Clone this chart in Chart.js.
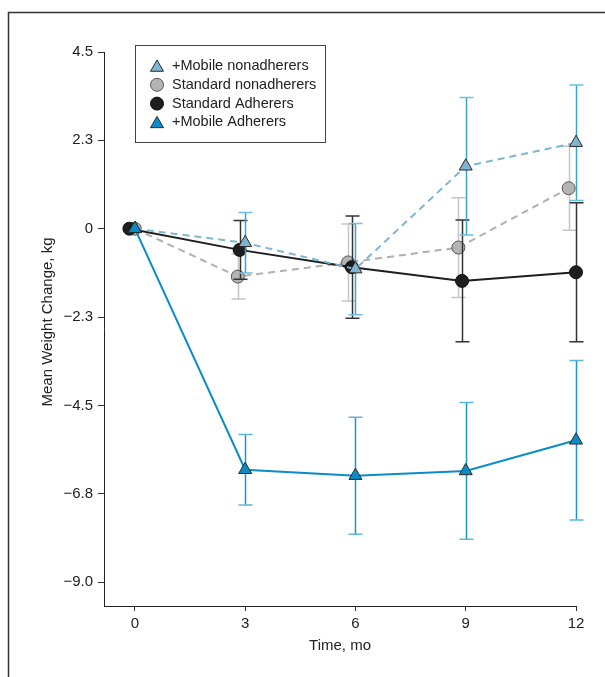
<!DOCTYPE html>
<html>
<head>
<meta charset="utf-8">
<script src="https://cdn.jsdelivr.net/npm/chart.js@4.4.0/dist/chart.umd.min.js"></script>
<style>
    html, body { margin: 0; padding: 0; background: #fff; }
    #wrap { width: 605px; height: 677px; }
</style>
</head>
<body>
<div id="wrap"><canvas id="weight-chart" width="605" height="677"></canvas></div>
<script>
var FONT = "'Liberation Sans Narrow', 'Arial Narrow', 'Liberation Sans', sans-serif";

// series values (mean +/- error, kg)
var mobileAdhX = [0, 3, 6, 9, 12];
var mobileAdhY = [0, -6.14, -6.29, -6.17, -5.39];
var mobileAdhErr = [0, 0.90, 1.49, 1.74, 2.03];

var mobileNonX = [0, 3, 6, 9, 12];
var mobileNonY = [0, -0.36, -1.03, 1.59, 2.19];
var mobileNonErr = [0, 0.77, 1.16, 1.75, 1.47];

var standardAdhX = [-0.15, 2.85, 5.9, 8.9, 12];
var standardAdhY = [0, -0.54, -0.98, -1.33, -1.11];
var standardAdhErr = [0, 0.75, 1.30, 1.55, 1.77];

var standardNonX = [0, 2.8, 5.8, 8.8, 11.8];
var standardNonY = [0, -1.22, -0.86, -0.48, 1.03];
var standardNonErr = [0, 0.57, 0.98, 1.27, 1.07];

var xTickValues = [0, 3, 6, 9, 12];
var yTickValues = [-9, -6.75, -4.5, -2.25, 0, 2.25, 4.5];
var yTickLabels = ["\u22129.0", "\u22126.8", "\u22124.5", "\u22122.3", "0", "2.3", "4.5"];

function toPoints(xs, ys) {
    return xs.map(function (x, i) { return { x: x, y: ys[i] }; });
}

// dataset 0 is drawn on top
var datasets = [
    {
        label: "+Mobile Adherers",
        data: toPoints(mobileAdhX, mobileAdhY),
        errors: mobileAdhErr,
        barColor: "#1a95cf",
        capColor: "#5ab6df",
        borderColor: "#0a8cc6",
        borderWidth: 2,
        pointStyle: "triangle",
        pointRadius: 7.5,
        pointBackgroundColor: "#0a8cc6",
        pointBorderColor: "#2a2a2a",
        pointBorderWidth: 1,
    },
    {
        label: "+Mobile nonadherers",
        data: toPoints(mobileNonX, mobileNonY),
        errors: mobileNonErr,
        barColor: "#3aa3d6",
        capColor: "#6cc0e4",
        borderColor: "#7db6d5",
        borderDash: [7, 5],
        borderWidth: 2,
        pointStyle: "triangle",
        pointRadius: 7.5,
        pointBackgroundColor: "#7fb5d2",
        pointBorderColor: "#2a2a2a",
        pointBorderWidth: 1,
    },
    {
        label: "Standard Adherers",
        data: toPoints(standardAdhX, standardAdhY),
        errors: standardAdhErr,
        barColor: "#333333",
        capColor: "#333333",
        borderColor: "#1e1e1e",
        borderWidth: 2,
        pointStyle: "circle",
        pointRadius: 6.5,
        pointBackgroundColor: "#1e1e1e",
        pointBorderColor: "#111111",
        pointBorderWidth: 1,
    },
    {
        label: "Standard nonadherers",
        data: toPoints(standardNonX, standardNonY),
        errors: standardNonErr,
        barColor: "#c6c6c6",
        capColor: "#c6c6c6",
        borderColor: "#b0b0b0",
        borderDash: [7, 5],
        borderWidth: 2,
        pointStyle: "circle",
        pointRadius: 6.5,
        pointBackgroundColor: "#b4b4b4",
        pointBorderColor: "#555555",
        pointBorderWidth: 1,
    },
];
datasets.forEach(function (d) { d.clip = false; d.tension = 0; d.fill = false; });

// order shown in the legend box
var legendOrder = [1, 3, 2, 0];

var errorBars = {
    id: "errorBars",
    beforeDatasetDraw: function (chart, args) {
        var ds = chart.data.datasets[args.index];
        if (!ds.errors) return;
        var xs = chart.scales.x, ys = chart.scales.y, ctx = chart.ctx;
        ctx.save();
        ctx.lineWidth = 1.5;
        ds.data.forEach(function (p, i) {
            var e = ds.errors[i];
            if (!e) return;
            var px = Math.round(xs.getPixelForValue(p.x)) + 0.5;
            var top = ys.getPixelForValue(p.y + e);
            var bot = ys.getPixelForValue(p.y - e);
            ctx.strokeStyle = ds.barColor;
            ctx.beginPath();
            ctx.moveTo(px, top);
            ctx.lineTo(px, bot);
            ctx.stroke();
            ctx.strokeStyle = ds.capColor;
            ctx.beginPath();
            ctx.moveTo(px - 7, top); ctx.lineTo(px + 7, top);
            ctx.moveTo(px - 7, bot); ctx.lineTo(px + 7, bot);
            ctx.stroke();
        });
        ctx.restore();
    },
};

function drawMarker(ctx, ds, x, y) {
    var r = ds.pointRadius;
    ctx.beginPath();
    if (ds.pointStyle === "triangle") {
        ctx.moveTo(x, y - r);
        ctx.lineTo(x + r * 0.866, y + r * 0.5);
        ctx.lineTo(x - r * 0.866, y + r * 0.5);
        ctx.closePath();
    } else {
        ctx.arc(x, y, r, 0, Math.PI * 2);
    }
    ctx.fillStyle = ds.pointBackgroundColor;
    ctx.fill();
    ctx.lineWidth = 1;
    ctx.strokeStyle = ds.pointBorderColor;
    ctx.stroke();
}

var decorations = {
    id: "decorations",
    afterDraw: function (chart) {
        var ctx = chart.ctx;
        ctx.save();
        // outer frame (left and top edges)
        ctx.strokeStyle = "#333";
        ctx.lineWidth = 1.5;
        ctx.beginPath();
        ctx.moveTo(8.5, 677);
        ctx.lineTo(8.5, 12.5);
        ctx.lineTo(605, 12.5);
        ctx.stroke();

        // y axis title
        ctx.save();
        ctx.fillStyle = "#222";
        ctx.font = "15px " + FONT;
        ctx.translate(48, 322);
        ctx.rotate(-Math.PI / 2);
        ctx.textAlign = "center";
        ctx.textBaseline = "middle";
        ctx.fillText("Mean Weight Change, kg", 0, 0);
        ctx.restore();

        // legend box
        ctx.strokeStyle = "#444";
        ctx.lineWidth = 1;
        ctx.strokeRect(135.5, 45.5, 190, 97);
        ctx.font = "14.5px " + FONT;
        ctx.textAlign = "left";
        ctx.textBaseline = "middle";
        legendOrder.forEach(function (idx, row) {
            var ds = chart.data.datasets[idx];
            var ly = 66 + row * 18.8;
            drawMarker(ctx, ds, 157, ds.pointStyle === "triangle" ? ly + 1.5 : ly);
            ctx.fillStyle = "#222";
            ctx.fillText(ds.label, 172, ly);
        });
        ctx.restore();
    },
};

var ctx = document.getElementById("weight-chart").getContext("2d");

var config = {
    type: "line",
    data: { datasets: datasets },
    options: {
        responsive: false,
        animation: false,
        layout: { padding: { top: 52, right: 29, left: 0, bottom: 0 } },
        plugins: {
            legend: { display: false },
            tooltip: { enabled: false },
        },
        scales: {
            x: {
                type: "linear",
                min: -0.84,
                max: 12,
                afterBuildTicks: function (axis) {
                    axis.ticks = xTickValues.map(function (v) { return { value: v }; });
                },
                afterFit: function (axis) { axis.height = 71; },
                grid: { drawOnChartArea: false, drawTicks: true, tickLength: 5, color: "#333" },
                border: { color: "#222", width: 1 },
                ticks: {
                    autoSkip: false,
                    maxRotation: 0,
                    padding: 4,
                    color: "#222",
                    font: { family: FONT, size: 15 },
                },
                title: {
                    display: true,
                    text: "Time, mo",
                    color: "#222",
                    font: { family: FONT, size: 15 },
                    padding: { top: 0, bottom: 22 },
                },
            },
            y: {
                type: "linear",
                min: -9.61,
                max: 4.5,
                afterBuildTicks: function (axis) {
                    axis.ticks = yTickValues.map(function (v) { return { value: v }; });
                },
                afterFit: function (axis) { axis.width = 104; },
                grid: { drawOnChartArea: false, drawTicks: true, tickLength: 6, color: "#333" },
                border: { color: "#222", width: 1 },
                ticks: {
                    autoSkip: false,
                    padding: 5,
                    color: "#222",
                    font: { family: FONT, size: 15 },
                    callback: function (value) {
                        return yTickLabels[yTickValues.indexOf(value)];
                    },
                },
            },
        },
    },
    plugins: [errorBars, decorations],
};

var weightChart = new Chart(ctx, config);
</script>
</body>
</html>
